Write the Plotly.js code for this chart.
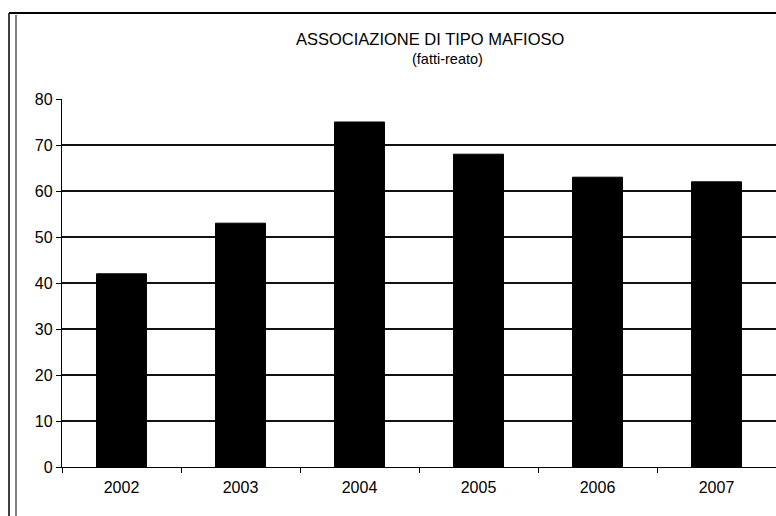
<!DOCTYPE html>
<html>
<head>
<meta charset="utf-8">
<script src="https://cdn.plot.ly/plotly-3.0.1.min.js"></script>
<style>
  html, body { margin: 0; padding: 0; background: #fff; }
  #chart { width: 776px; height: 516px; }
</style>
</head>
<body>
<div id="chart"></div>
<script>
// data
const years = ['2002', '2003', '2004', '2005', '2006', '2007'];
const fattiReato = [42, 53, 75, 68, 63, 62];
const yTicks = [0, 10, 20, 30, 40, 50, 60, 70, 80];

const titleText = 'ASSOCIAZIONE DI TIPO MAFIOSO';
const subtitleText = '(fatti-reato)';

// plot area in pixels: left 62, right 776, top 99, bottom 467
function px(x) { return (x - 62) / 714; }
function py(y) { return (467 - y) / 368; }

const font = 'Liberation Sans, Arial, sans-serif';

const data = [
  {
    x: years,
    y: fattiReato,
    type: 'bar',
    width: 0.42,
    marker: { color: '#000', line: { color: '#000', width: 1 } },
    hoverinfo: 'x+y'
  }
];

const layout = {
  width: 776,
  height: 516,
  margin: { l: 62, r: 0, t: 99, b: 49 },
  paper_bgcolor: '#fff',
  plot_bgcolor: '#fff',
  showlegend: false,
  font: { family: font, size: 16, color: '#000' },
  xaxis: {
    type: 'category',
    range: [-0.5, 5.5],
    tickson: 'boundaries',
    ticks: 'outside',
    ticklen: 5,
    tickcolor: '#000',
    ticklabelstandoff: 6,
    showgrid: false,
    showline: true,
    linecolor: '#000',
    linewidth: 1.2,
    tickfont: { family: font, size: 16, color: '#000' },
    fixedrange: true
  },
  yaxis: {
    range: [0, 80],
    tickvals: yTicks,
    ticks: 'outside',
    ticklen: 5,
    tickcolor: '#000',
    showgrid: true,
    gridcolor: '#111',
    gridwidth: 1.2,
    zeroline: false,
    showline: true,
    linecolor: '#000',
    linewidth: 1.2,
    tickfont: { family: font, size: 16, color: '#000' },
    fixedrange: true
  },
  annotations: [
    {
      text: titleText,
      xref: 'paper', yref: 'paper',
      x: px(430), y: py(39),
      xanchor: 'center', yanchor: 'middle',
      showarrow: false,
      font: { family: font, size: 16.5, color: '#000' }
    },
    {
      text: subtitleText,
      xref: 'paper', yref: 'paper',
      x: px(447), y: py(59),
      xanchor: 'center', yanchor: 'middle',
      showarrow: false,
      font: { family: font, size: 14.5, color: '#000' }
    }
  ],
  shapes: [
    // outer frame of the scanned page
    { type: 'line', xref: 'paper', yref: 'paper', x0: px(9), x1: px(776), y0: py(13), y1: py(13), line: { color: '#000', width: 2 } },
    { type: 'line', xref: 'paper', yref: 'paper', x0: px(9), x1: px(9), y0: py(13), y1: py(516), line: { color: '#000', width: 1.5 } },
    { type: 'line', xref: 'paper', yref: 'paper', x0: px(16), x1: px(16), y0: py(15), y1: py(516), line: { color: '#000', width: 1 } }
  ]
};

Plotly.newPlot('chart', data, layout, { displayModeBar: false, staticPlot: true });
</script>
</body>
</html>
